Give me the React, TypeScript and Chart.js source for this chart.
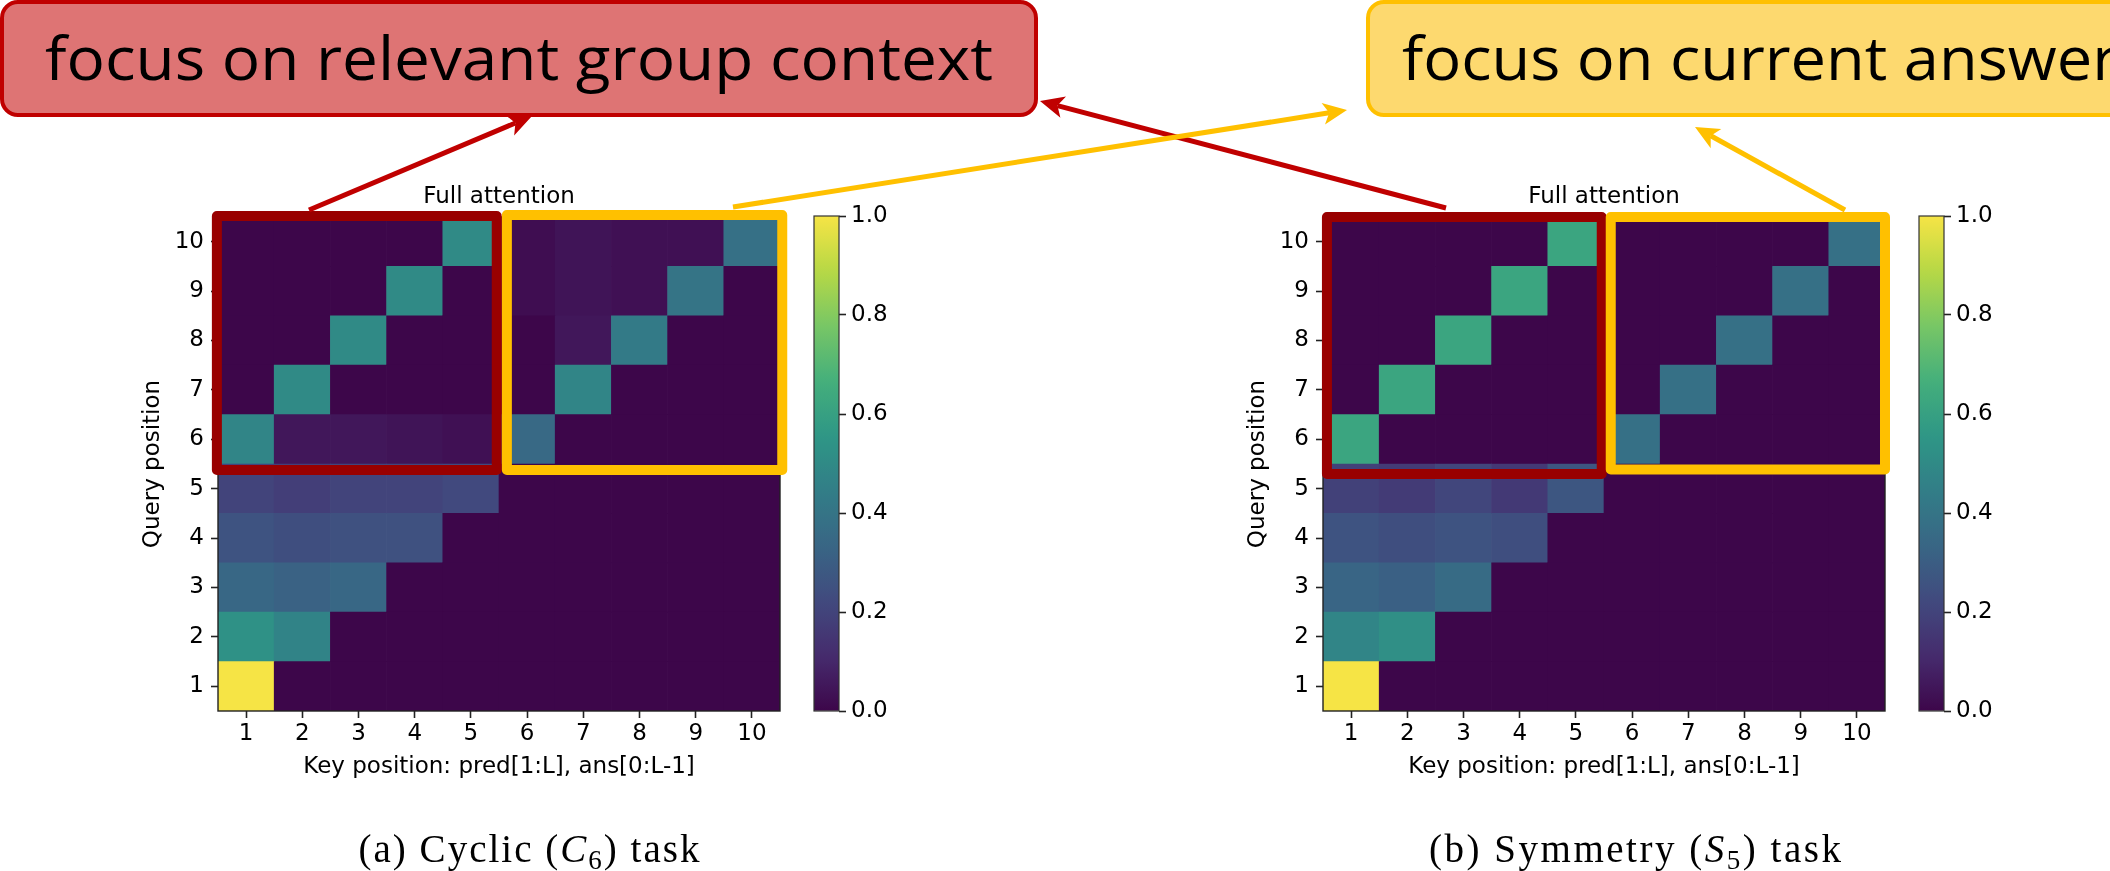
import React, { useEffect, useRef } from "react";
import { Chart, registerables } from "chart.js";

Chart.register(...registerables);

// ---- data ---------------------------------------------------------------
const KEY_POSITIONS = ["1", "2", "3", "4", "5", "6", "7", "8", "9", "10"];
const QUERY_TICKS = [1, 2, 3, 4, 5, 6, 7, 8, 9, 10];
const COLORBAR_TICKS = [0, 0.2, 0.4, 0.6, 0.8, 1.0];

// attention weights: row i = query position i + 1, column j = key position j + 1
const CYCLIC_ATTENTION = [
  [1.0, 0, 0, 0, 0, 0, 0, 0, 0, 0],
  [0.53, 0.47, 0, 0, 0, 0, 0, 0, 0, 0],
  [0.34, 0.32, 0.34, 0, 0, 0, 0, 0, 0, 0],
  [0.26, 0.24, 0.25, 0.25, 0, 0, 0, 0, 0, 0],
  [0.2, 0.18, 0.2, 0.2, 0.22, 0, 0, 0, 0, 0],
  [0.48, 0.05, 0.05, 0.04, 0.03, 0.35, 0, 0, 0, 0],
  [0, 0.5, 0, 0, 0, 0, 0.48, 0, 0, 0],
  [0, 0, 0.5, 0, 0, 0, 0.05, 0.43, 0, 0],
  [0, 0, 0, 0.5, 0, 0.02, 0.04, 0.03, 0.4, 0],
  [0, 0, 0, 0, 0.5, 0.02, 0.04, 0.03, 0.03, 0.38],
];

const SYMMETRY_ATTENTION = [
  [1.0, 0, 0, 0, 0, 0, 0, 0, 0, 0],
  [0.48, 0.52, 0, 0, 0, 0, 0, 0, 0, 0],
  [0.33, 0.31, 0.36, 0, 0, 0, 0, 0, 0, 0],
  [0.26, 0.24, 0.26, 0.24, 0, 0, 0, 0, 0, 0],
  [0.19, 0.17, 0.21, 0.16, 0.27, 0, 0, 0, 0, 0],
  [0.62, 0, 0, 0, 0, 0.38, 0, 0, 0, 0],
  [0, 0.62, 0, 0, 0, 0, 0.38, 0, 0, 0],
  [0, 0, 0.62, 0, 0, 0, 0, 0.38, 0, 0],
  [0, 0, 0, 0.62, 0, 0, 0, 0, 0.38, 0],
  [0, 0, 0, 0, 0.62, 0, 0, 0, 0, 0.38],
];

// highlight frames: [keyFrom, keyTo, queryFrom, queryTo] in position units
const CYCLIC_GROUP_FRAME = [0.48, 5.46, 5.38, 10.52];
const CYCLIC_ANSWER_FRAME = [5.64, 10.54, 5.38, 10.54];
const SYMMETRY_GROUP_FRAME = [0.57, 5.46, 5.3, 10.5];
const SYMMETRY_ANSWER_FRAME = [5.62, 10.5, 5.39, 10.5];

// ---- styling ------------------------------------------------------------
const SANS = "'DejaVu Sans', sans-serif";
const AXIS_FONT = { family: SANS, size: 23, weight: "normal" as const };
const GROUP_RED = "#990000";
const ANSWER_YELLOW = "#ffc000";

const VIRIDIS = [
  "#440154", "#482878", "#3e4989", "#31688e", "#26828e",
  "#1f9e89", "#35b779", "#6ece58", "#b5de2b", "#fde725",
];
const VIRIDIS_RGB = VIRIDIS.map((h) => [
  parseInt(h.slice(1, 3), 16),
  parseInt(h.slice(3, 5), 16),
  parseInt(h.slice(5, 7), 16),
]);

function viridis(t: number): string {
  const v = Math.max(0, Math.min(1, t));
  const n = VIRIDIS_RGB.length;
  const pos = v * (n - 1);
  const i = Math.min(Math.floor(pos), n - 2);
  const f = pos - i;
  const a = VIRIDIS_RGB[i];
  const b = VIRIDIS_RGB[i + 1];
  let rgb = [0, 1, 2].map((k) => a[k] + (b[k] - a[k]) * f);
  // slightly muted print tone
  const g = 0.299 * rgb[0] + 0.587 * rgb[1] + 0.114 * rgb[2];
  rgb = rgb.map((c) => g + (c - g) * 0.82);
  return `rgb(${rgb.map((c) => Math.round(c)).join(",")})`;
}

// frame around the plot area plus the highlight rectangles
function framePlugin(frames: { box: number[]; color: string }[]) {
  return {
    id: "heatFrames",
    afterDatasetsDraw(chart: any) {
      const { ctx, chartArea, scales } = chart;
      ctx.save();
      ctx.strokeStyle = "#222";
      ctx.lineWidth = 1.4;
      ctx.strokeRect(chartArea.left, chartArea.top, chartArea.right - chartArea.left, chartArea.bottom - chartArea.top);
      for (const fr of frames) {
        const x0 = scales.x.getPixelForValue(fr.box[0] - 1);
        const x1 = scales.x.getPixelForValue(fr.box[1] - 1);
        const y0 = scales.y.getPixelForValue(fr.box[2]);
        const y1 = scales.y.getPixelForValue(fr.box[3]);
        ctx.strokeStyle = fr.color;
        ctx.lineWidth = 10;
        ctx.lineJoin = "round";
        ctx.strokeRect(x0, y1, x1 - x0, y0 - y1);
      }
      ctx.restore();
    },
  };
}

function heatmapConfig(matrix: number[][], groupFrame: number[], answerFrame: number[]) {
  const datasets = matrix.map((row, qi) => ({
    label: `query ${QUERY_TICKS[qi]}`,
    data: row.map(() => [QUERY_TICKS[qi] - 0.5, QUERY_TICKS[qi] + 0.5]),
    backgroundColor: row.map((v) => viridis(v)),
    borderWidth: 0,
    grouped: false,
    categoryPercentage: 1,
    barPercentage: 1,
  }));
  return {
    type: "bar" as const,
    data: { labels: KEY_POSITIONS, datasets },
    options: {
      responsive: false,
      animation: false as const,
      layout: { padding: { left: 39.2, top: 0, right: 20, bottom: 19.2 } },
      plugins: {
        legend: { display: false },
        tooltip: { enabled: false },
        title: {
          display: true,
          fullSize: false,
          text: "Full attention",
          color: "#000",
          font: AXIS_FONT,
          padding: { top: 13.2, bottom: 6.2 },
        },
      },
      scales: {
        x: {
          type: "category" as const,
          offset: true,
          grid: { drawOnChartArea: false, drawTicks: true, tickLength: 7, tickColor: "#222", tickWidth: 1.6, offset: false },
          border: { display: false },
          ticks: { color: "#000", font: AXIS_FONT, padding: 2, maxRotation: 0, autoSkip: false },
          title: { display: true, text: "Key position: pred[1:L], ans[0:L-1]", color: "#000", font: AXIS_FONT, padding: 0 },
          afterFit: (s: any) => { s.height = 69.8; },
        },
        y: {
          type: "linear" as const,
          min: 0.5,
          max: 10.5,
          afterBuildTicks: (s: any) => { s.ticks = QUERY_TICKS.map((v) => ({ value: v })); },
          grid: { drawOnChartArea: false, drawTicks: true, tickLength: 7, tickColor: "#222", tickWidth: 1.6 },
          border: { display: false },
          ticks: { color: "#000", font: AXIS_FONT, padding: 7, callback: (v: any) => String(v) },
          title: { display: true, text: "Query position", color: "#000", font: AXIS_FONT, padding: 0 },
          afterFit: (s: any) => { s.width = 78.8; },
        },
      },
    },
    plugins: [
      framePlugin([
        { box: groupFrame, color: GROUP_RED },
        { box: answerFrame, color: ANSWER_YELLOW },
      ]),
    ],
  };
}

function colorbarConfig() {
  return {
    type: "bar" as const,
    data: {
      labels: [""],
      datasets: [
        {
          data: [[COLORBAR_TICKS[0], COLORBAR_TICKS[COLORBAR_TICKS.length - 1]]],
          borderWidth: 0,
          categoryPercentage: 1,
          barPercentage: 1,
          backgroundColor: (c: any) => {
            const chart = c.chart;
            const ys = chart.scales && chart.scales.y;
            if (!chart.chartArea || !ys) return VIRIDIS[0];
            const grad = chart.ctx.createLinearGradient(0, ys.getPixelForValue(0), 0, ys.getPixelForValue(1));
            for (let i = 0; i <= 40; i++) grad.addColorStop(i / 40, viridis(i / 40));
            return grad;
          },
        },
      ],
    },
    options: {
      responsive: false,
      animation: false as const,
      layout: { padding: { left: 14, top: 46, right: 0, bottom: 89 } },
      plugins: { legend: { display: false }, tooltip: { enabled: false } },
      scales: {
        x: { display: false },
        y: {
          position: "right" as const,
          min: 0,
          max: 1,
          afterBuildTicks: (s: any) => { s.ticks = COLORBAR_TICKS.map((v) => ({ value: v })); },
          grid: { drawOnChartArea: false, drawTicks: true, tickLength: 7, tickColor: "#222", tickWidth: 1.6 },
          border: { display: false },
          ticks: { color: "#000", font: AXIS_FONT, padding: 5, callback: (v: any) => Number(v).toFixed(1) },
          afterFit: (s: any) => { s.width = 71; },
        },
      },
    },
    plugins: [
      {
        id: "cbarOutline",
        afterDatasetsDraw(chart: any) {
          const { ctx, chartArea: a } = chart;
          ctx.save();
          ctx.strokeStyle = "#333";
          ctx.lineWidth = 1.2;
          ctx.strokeRect(a.left, a.top, a.right - a.left, a.bottom - a.top);
          ctx.restore();
        },
      },
    ],
  };
}

function ChartCanvas(props: { left: number; top: number; width: number; height: number; make: () => any }) {
  const ref = useRef<HTMLCanvasElement>(null);
  useEffect(() => {
    const chart = new Chart(ref.current as HTMLCanvasElement, props.make());
    return () => chart.destroy();
  }, []);
  return (
    <canvas
      ref={ref}
      width={props.width}
      height={props.height}
      style={{ position: "absolute", left: props.left, top: props.top, width: props.width, height: props.height }}
    />
  );
}

function Arrow(props: { x1: number; y1: number; x2: number; y2: number; color: string }) {
  const { x1, y1, x2, y2, color } = props;
  const L = Math.hypot(x2 - x1, y2 - y1);
  const ux = (x2 - x1) / L;
  const uy = (y2 - y1) / L;
  const px = -uy;
  const py = ux;
  const headLen = 24;
  const half = 11;
  const notch = 6;
  const bx = x2 - ux * headLen;
  const by = y2 - uy * headLen;
  const nx = x2 - ux * (headLen - notch);
  const ny = y2 - uy * (headLen - notch);
  const pts = [
    [x2, y2],
    [bx + px * half, by + py * half],
    [nx, ny],
    [bx - px * half, by - py * half],
  ]
    .map((p) => p.join(","))
    .join(" ");
  return (
    <g>
      <line x1={x1} y1={y1} x2={nx} y2={ny} stroke={color} strokeWidth={5} />
      <polygon points={pts} fill={color} />
    </g>
  );
}

function Overlay() {
  const callout = "'Open Sans', 'DejaVu Sans', sans-serif";
  const serif = "'Liberation Serif', 'DejaVu Serif', serif";
  return (
    <svg width={2110} height={871} style={{ position: "absolute", left: 0, top: 0, pointerEvents: "none" }}>
      <rect x={2} y={2} width={1034} height={113} rx={16} ry={16} fill="#de7474" stroke="#c00000" strokeWidth={4} />
      <text x={519} y={80} textAnchor="middle" fontFamily={callout} fontSize={60} fill="#000" textLength={948} lengthAdjust="spacingAndGlyphs">
        focus on relevant group context
      </text>
      <rect x={1368} y={2} width={800} height={113} rx={16} ry={16} fill="#fdd96f" stroke="#ffc000" strokeWidth={4} />
      <text x={1402} y={80} fontFamily={callout} fontSize={60} fill="#000" textLength={716} lengthAdjust="spacingAndGlyphs">
        focus on current answer
      </text>

      <Arrow x1={309} y1={210} x2={532} y2={116} color="#c00000" />
      <Arrow x1={1446} y1={208} x2={1040} y2={101} color="#c00000" />
      <Arrow x1={733} y1={207} x2={1347} y2={110} color="#ffc000" />
      <Arrow x1={1845} y1={210} x2={1695} y2={127} color="#ffc000" />

      <text x={529} y={862} textAnchor="middle" fontFamily={serif} fontSize={39} fill="#000" textLength={341} lengthAdjust="spacing">
        (a) Cyclic (<tspan fontStyle="italic">C</tspan>
        <tspan dy={7} fontSize={27}>6</tspan>
        <tspan dy={-7}>) task</tspan>
      </text>
      <text x={1635} y={862} textAnchor="middle" fontFamily={serif} fontSize={39} fill="#000" textLength={412} lengthAdjust="spacing">
        (b) Symmetry (<tspan fontStyle="italic">S</tspan>
        <tspan dy={7} fontSize={27}>5</tspan>
        <tspan dy={-7}>) task</tspan>
      </text>
    </svg>
  );
}

export default function App() {
  return (
    <div style={{ position: "absolute", left: 0, top: 0, width: 2110, height: 871, overflow: "hidden", background: "#fff" }}>
      <ChartCanvas left={100} top={170} width={700} height={630} make={() => heatmapConfig(CYCLIC_ATTENTION, CYCLIC_GROUP_FRAME, CYCLIC_ANSWER_FRAME)} />
      <ChartCanvas left={800} top={170} width={110} height={630} make={colorbarConfig} />
      <ChartCanvas left={1205} top={170} width={700} height={630} make={() => heatmapConfig(SYMMETRY_ATTENTION, SYMMETRY_GROUP_FRAME, SYMMETRY_ANSWER_FRAME)} />
      <ChartCanvas left={1905} top={170} width={110} height={630} make={colorbarConfig} />
      <Overlay />
    </div>
  );
}
